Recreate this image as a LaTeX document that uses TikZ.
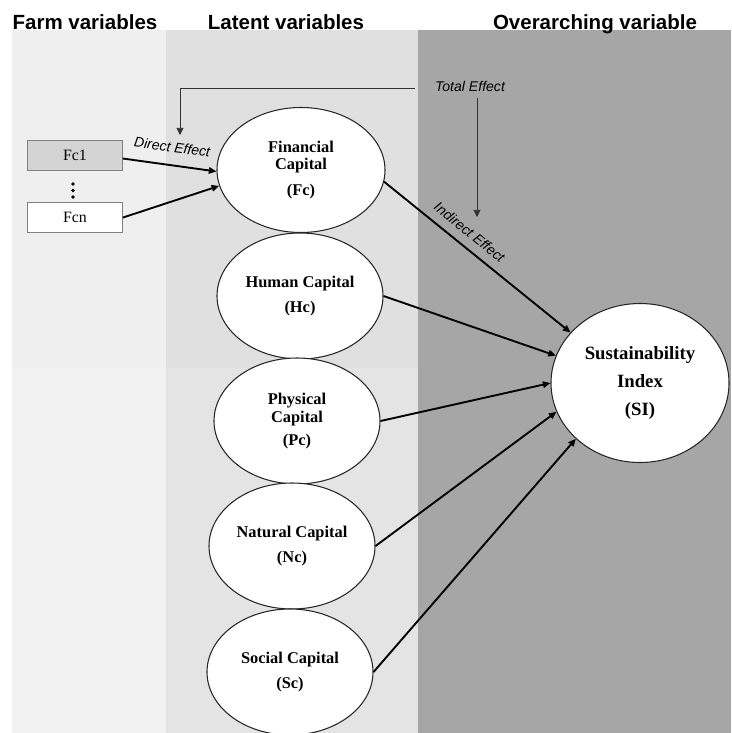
\documentclass[tikz,border=0pt]{standalone}
\usepackage{fontspec}
\setmainfont{Liberation Serif}
\setsansfont{Liberation Sans}
\usepackage{tikz}
\usetikzlibrary{arrows.meta, positioning, shapes.geometric}
\definecolor{farmbg}{RGB}{239,239,239}
\definecolor{farmbglo}{RGB}{242,242,242}
\definecolor{latbg}{RGB}{224,224,224}
\definecolor{latbglo}{RGB}{228,228,228}
\definecolor{overbg}{RGB}{166,166,166}
\definecolor{fcfill}{RGB}{212,212,212}

\begin{document}
\begin{tikzpicture}[
    x=0.03cm, y=-0.03cm,
    head/.style={font=\sffamily\bfseries\fontsize{17.5}{20}\selectfont,anchor=base},
    latent/.style={ellipse,draw=black!85,line width=0.9pt,fill=white,inner sep=0pt,
      minimum width=4.98cm,minimum height=3.78cm,align=center,
      font=\bfseries\fontsize{14}{15}\selectfont},
    fvar/.style={draw=black!50,line width=0.5pt,minimum width=2.85cm,
      minimum height=0.9cm,inner sep=0pt,font=\fontsize{13.5}{15}\selectfont},
    effect/.style={font=\sffamily\itshape\fontsize{12}{14}\selectfont},
    link/.style={-{Triangle[length=6.5pt,width=5.5pt]},line width=1.6pt},
    teff/.style={-{Triangle[length=6pt,width=6pt]},draw=black!80,line width=0.5pt}
  ]
  \useasboundingbox (0,0) rectangle (731,733);

  % column backgrounds
  \fill[white] (0,0) rectangle (731,733);
  \fill[farmbg] (12,30) rectangle (166,368);
  \fill[farmbglo] (12,368) rectangle (166,733);
  \fill[latbg] (166,30) rectangle (418,368);
  \fill[latbglo] (166,368) rectangle (418,733);
  \fill[overbg] (418,30) rectangle (731,733);

  % column headings
  \node[head] (hfarm) at (85,30) {Farm variables};
  \node[head] (hlat) at (286,30) {Latent variables};
  \node[head] (hover) at (595,30) {Overarching variable};

  % farm variables
  \node[fvar,fill=fcfill] (fcone) at (75,155) {Fc1};
  \node[fvar,fill=white,below=0.96cm of fcone] (fcn) {Fcn};
  \foreach \k in {0,1,2}
    \fill (73,184+6.5*\k) circle (0.055cm);

  % latent variables
  \node[latent,minimum width=5.04cm,minimum height=3.75cm] (fc) at (301,170)
    {Financial\\Capital\\[7pt](Fc)};
  \node[latent] (hc) at (300,296) {Human Capital\\[7pt](Hc)};
  \node[latent] (pc) at (297,421) {Physical\\Capital\\[5pt](Pc)};
  \node[latent] (nc) at (292,546) {Natural Capital\\[7pt](Nc)};
  \node[latent] (sc) at (290,672) {Social Capital\\[7pt](Sc)};

  % overarching variable
  \node[latent,minimum width=5.34cm,minimum height=4.77cm,
    font=\bfseries\fontsize{16}{24}\selectfont] (si) at (640,383)
    {Sustainability\\Index\\(SI)};

  % direct effects
  \draw[link] ([yshift=-3pt]fcone.east) -- node[effect,sloped,above=7pt] (direct)
    {Direct Effect} (fc.181);
  \draw[link] (fcn.east) -- (fc.191);

  % paths to SI
  \draw[link] (fc.-8) -- node[effect,sloped,above=4pt,pos=0.41] (indirect)
    {Indirect Effect} (si.144);
  \draw[link] (hc.east) -- (si.162);
  \draw[link] (pc.east) -- (si.180);
  \draw[link] (nc.east) -- (si.199);
  \draw[link] (sc.east) -- (si.221);

  % total effect
  \node[effect] (total) at (470,86) {Total Effect};
  \coordinate (tleft) at (180,135);
  \coordinate (tdown) at (477,217);
  \draw[teff] (total.west) ++(-16,2) -| (tleft);
  \draw[teff] (tdown |- total.south) ++(0,3) -- (tdown);
\end{tikzpicture}
\end{document}
